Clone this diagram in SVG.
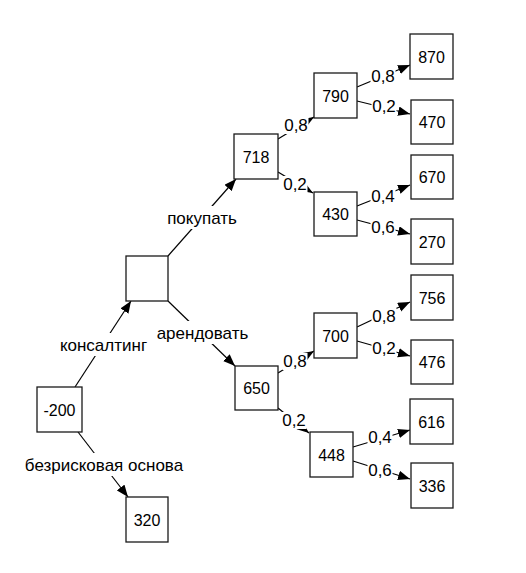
<svg xmlns="http://www.w3.org/2000/svg" width="526" height="573" viewBox="0 0 526 573">
<style>
.box{fill:#fff;stroke:#1a1a1a;stroke-width:1.3}
.t{font-family:"Liberation Sans",Arial,sans-serif;font-size:16px;text-anchor:middle;fill:#000}
.l{font-family:"Liberation Sans",Arial,sans-serif;font-size:17px;text-anchor:middle;fill:#000}
.c{stroke:#000;stroke-width:1.2;fill:none;marker-end:url(#ah)}
.bg{fill:#fff}
</style>
<defs>
<marker id="ah" markerUnits="userSpaceOnUse" markerWidth="13" markerHeight="10" refX="12" refY="4.75" orient="auto">
<path d="M0,0 L12,4.75 L0,9.5 z" fill="#000"/>
</marker>
</defs>
<rect width="526" height="573" fill="#fff"/>
<g id="connectors">
<line class="c" x1="75" y1="387" x2="131" y2="301"/>
<line class="c" x1="78" y1="432" x2="128" y2="497"/>
<line class="c" x1="168" y1="256" x2="236" y2="179"/>
<line class="c" x1="168" y1="301" x2="235" y2="366"/>
<line class="c" x1="278" y1="139" x2="314" y2="117"/>
<line class="c" x1="278" y1="172" x2="313" y2="193"/>
<line class="c" x1="357" y1="87" x2="410" y2="65"/>
<line class="c" x1="357" y1="101" x2="410" y2="114"/>
<line class="c" x1="357" y1="206" x2="410" y2="185"/>
<line class="c" x1="357" y1="220" x2="410" y2="234"/>
<line class="c" x1="278" y1="373" x2="314" y2="351"/>
<line class="c" x1="278" y1="408" x2="309" y2="433"/>
<line class="c" x1="357" y1="327" x2="410" y2="302"/>
<line class="c" x1="357" y1="341" x2="410" y2="356"/>
<line class="c" x1="353" y1="447" x2="410" y2="430"/>
<line class="c" x1="353" y1="461" x2="410" y2="479"/>
</g>
<g id="labels">
<rect class="bg" x="58" y="333" width="91" height="23"/><text class="l" x="103.5" y="351">консалтинг</text>
<rect class="bg" x="24" y="453" width="160" height="23"/><text class="l" x="104" y="471">безрисковая основа</text>
<rect class="bg" x="166" y="206" width="72" height="23"/><text class="l" x="202" y="224">покупать</text>
<rect class="bg" x="156" y="321" width="93" height="23"/><text class="l" x="202.5" y="339">арендовать</text>
<rect class="bg" x="283.5" y="117" width="25" height="17"/><text class="l" x="296" y="131">0,8</text>
<rect class="bg" x="282.5" y="176" width="25" height="17"/><text class="l" x="295" y="190">0,2</text>
<rect class="bg" x="370.5" y="68" width="25" height="17"/><text class="l" x="383" y="82">0,8</text>
<rect class="bg" x="371.5" y="98" width="25" height="17"/><text class="l" x="384" y="112">0,2</text>
<rect class="bg" x="370.5" y="188" width="25" height="17"/><text class="l" x="383" y="202">0,4</text>
<rect class="bg" x="370.5" y="219" width="25" height="17"/><text class="l" x="383" y="233">0,6</text>
<rect class="bg" x="282.5" y="353" width="25" height="17"/><text class="l" x="295" y="367">0,8</text>
<rect class="bg" x="281.5" y="412" width="25" height="17"/><text class="l" x="294" y="426">0,2</text>
<rect class="bg" x="371.5" y="308" width="25" height="17"/><text class="l" x="384" y="322">0,8</text>
<rect class="bg" x="371.5" y="340" width="25" height="17"/><text class="l" x="384" y="354">0,2</text>
<rect class="bg" x="367.5" y="429" width="25" height="17"/><text class="l" x="380" y="443">0,4</text>
<rect class="bg" x="367.5" y="462" width="25" height="17"/><text class="l" x="380" y="476">0,6</text>
</g>
<g id="n_m200"><rect class="box" x="37" y="387" width="45" height="45"/><text class="t" x="59.5" y="415.5">-200</text></g>
<g id="n_decision"><rect class="box" x="126" y="256" width="42" height="45"/></g>
<g id="n_320"><rect class="box" x="126" y="497" width="42" height="45"/><text class="t" x="147" y="525.5">320</text></g>
<g id="n_718"><rect class="box" x="234" y="134" width="44" height="45"/><text class="t" x="256" y="162.5">718</text></g>
<g id="n_650"><rect class="box" x="235" y="366" width="43" height="44"/><text class="t" x="256.5" y="394">650</text></g>
<g id="n_790"><rect class="box" x="314" y="73" width="43" height="45"/><text class="t" x="335.5" y="101.5">790</text></g>
<g id="n_430"><rect class="box" x="314" y="192" width="43" height="44"/><text class="t" x="335.5" y="220">430</text></g>
<g id="n_700"><rect class="box" x="314" y="313" width="43" height="45"/><text class="t" x="335.5" y="341.5">700</text></g>
<g id="n_448"><rect class="box" x="310" y="432" width="43" height="45"/><text class="t" x="331.5" y="460.5">448</text></g>
<g id="n_870"><rect class="box" x="410" y="34" width="43" height="45"/><text class="t" x="431.5" y="62.5">870</text></g>
<g id="n_470"><rect class="box" x="411" y="100" width="42" height="44"/><text class="t" x="432" y="128">470</text></g>
<g id="n_670"><rect class="box" x="411" y="155" width="42" height="44"/><text class="t" x="432" y="183">670</text></g>
<g id="n_270"><rect class="box" x="411" y="219" width="42" height="45"/><text class="t" x="432" y="247.5">270</text></g>
<g id="n_756"><rect class="box" x="411" y="275" width="42" height="45"/><text class="t" x="432" y="303.5">756</text></g>
<g id="n_476"><rect class="box" x="411" y="340" width="42" height="44"/><text class="t" x="432" y="368">476</text></g>
<g id="n_616"><rect class="box" x="410" y="399" width="43" height="45"/><text class="t" x="431.5" y="427.5">616</text></g>
<g id="n_336"><rect class="box" x="411" y="463" width="42" height="45"/><text class="t" x="432" y="491.5">336</text></g>
</svg>
